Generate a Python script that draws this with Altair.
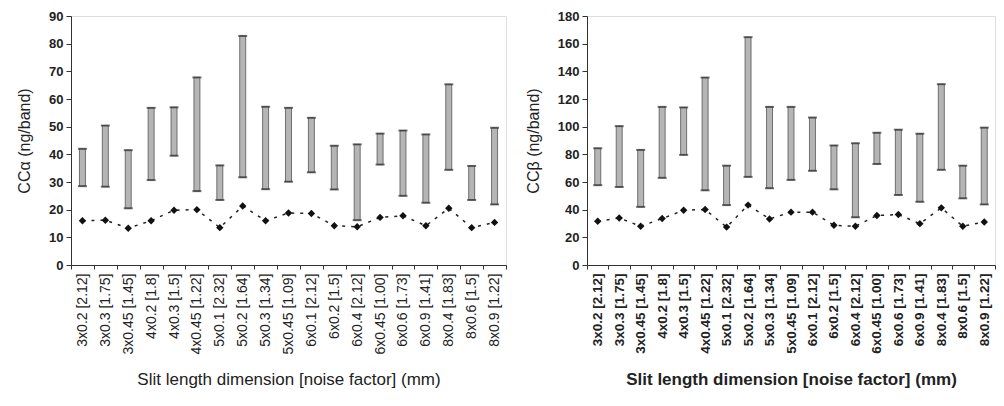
import altair as alt
import pandas as pd

cats = ["3x0.2 [2.12]", "3x0.3 [1.75]", "3x0.45 [1.45]", "4x0.2 [1.8]", "4x0.3 [1.5]",
        "4x0.45 [1.22]", "5x0.1 [2.32]", "5x0.2 [1.64]", "5x0.3 [1.34]", "5x0.45 [1.09]",
        "6x0.1 [2.12]", "6x0.2 [1.5]", "6x0.4 [2.12]", "6x0.45 [1.00]", "6x0.6 [1.73]",
        "6x0.9 [1.41]", "8x0.4 [1.83]", "8x0.6 [1.5]", "8x0.9 [1.22]"]

alpha_low = [28.5, 28.3, 20.5, 30.7, 39.5, 26.7, 23.5, 31.7, 27.4, 30.1, 33.5, 27.3, 16.2, 36.3, 25.0, 22.5, 34.4, 23.5, 21.9]
alpha_high = [42.0, 50.4, 41.5, 56.8, 57.0, 67.8, 36.0, 82.8, 57.2, 56.8, 53.2, 43.1, 43.6, 47.5, 48.6, 47.2, 65.3, 35.8, 49.6]
alpha_mid = [16.0, 16.2, 13.3, 16.0, 19.8, 20.0, 13.5, 21.3, 16.0, 18.8, 18.6, 14.2, 13.8, 17.2, 17.8, 14.2, 20.5, 13.5, 15.4]

beta_low = [57.7, 56.4, 42.0, 63.0, 79.6, 54.0, 43.3, 63.7, 55.5, 61.5, 68.1, 54.7, 34.5, 73.0, 50.6, 45.7, 68.8, 48.2, 43.8]
beta_high = [84.4, 100.4, 83.2, 114.3, 113.9, 135.5, 71.8, 164.7, 114.3, 114.3, 106.6, 86.4, 88.0, 95.6, 97.8, 94.9, 130.7, 71.8, 99.3]
beta_mid = [31.6, 34.0, 28.0, 33.6, 39.6, 40.1, 27.4, 43.3, 33.3, 38.2, 38.2, 28.7, 28.0, 35.8, 36.5, 29.9, 41.3, 28.0, 31.1]

x_title = "Slit length dimension [noise factor] (mm)"
FONT = "Liberation Sans"


def panel(low, high, mid, ymax, step, ytitle, w, h, weight, lab_size):
    df = pd.DataFrame({"cat": cats, "low": low, "high": high, "mid": mid})
    x = alt.X("cat:N", sort=cats,
              scale=alt.Scale(paddingInner=0, paddingOuter=0),
              axis=alt.Axis(title=x_title, labelAngle=-90, labelFontSize=lab_size,
                            labelFont=FONT, labelFontWeight=weight, labelPadding=4,
                            tickBand="extent", tickSize=4, titleFontSize=17,
                            titleFont=FONT, titleFontWeight=weight, titlePadding=18,
                            domainColor="#333", tickColor="#333",
                            labelColor="#222", titleColor="#222"))
    yscale = alt.Scale(domain=[0, ymax], nice=False)
    yaxis = alt.Axis(title=ytitle, values=list(range(0, ymax + 1, step)), grid=False,
                     labelOverlap=False, tickCount=len(range(0, ymax + 1, step)),
                     labelFontSize=13, labelFont=FONT, labelFontWeight="bold",
                     tickSize=5, labelPadding=3, titleFontSize=16, titleFont=FONT,
                     titleFontWeight="normal", titlePadding=16,
                     domainColor="#333", tickColor="#333",
                     labelColor="#222", titleColor="#222")
    base = alt.Chart(df).encode(x=x)
    bars = base.mark_bar(size=6, fill="#b5b5b5", stroke="#555", strokeWidth=0.8).encode(
        y=alt.Y("low:Q", scale=yscale, axis=yaxis), y2="high:Q")
    cap_top = base.mark_tick(color="#333", thickness=2, size=9).encode(
        y=alt.Y("high:Q", scale=yscale, axis=yaxis))
    cap_bot = base.mark_tick(color="#333", thickness=2, size=9).encode(
        y=alt.Y("low:Q", scale=yscale, axis=yaxis))
    line = base.mark_line(strokeDash=[3, 6], color="#222", strokeWidth=1.5).encode(
        y=alt.Y("mid:Q", scale=yscale, axis=yaxis))
    pts = base.mark_point(shape="diamond", filled=True, color="#111", size=55,
                          opacity=1).encode(y=alt.Y("mid:Q", scale=yscale, axis=yaxis))
    return alt.layer(bars, cap_top, cap_bot, line, pts).properties(width=w, height=h)


left = panel(alpha_low, alpha_high, alpha_mid, 90, 10, "CCα (ng/band)", 435, 249, "normal", 14)
right = panel(beta_low, beta_high, beta_mid, 180, 20, "CCβ (ng/band)", 408, 249, "bold", 13.5)

chart = alt.hconcat(left, right, spacing=17).properties(
    padding={"left": 8, "top": 1, "right": 0, "bottom": 0}
).configure_view(stroke=None).configure(font=FONT)

chart.save("out.html", embed_options={"renderer": "svg", "actions": False})
